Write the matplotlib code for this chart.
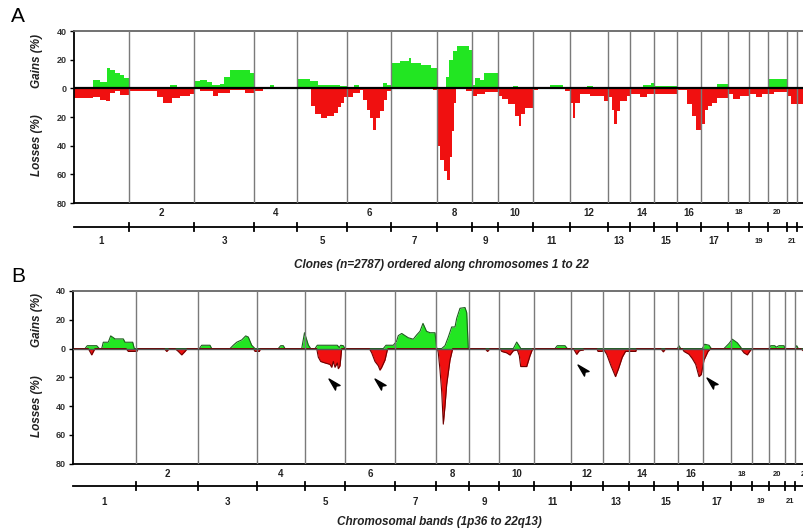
import numpy as np
import matplotlib.pyplot as plt
from matplotlib import transforms
from matplotlib.path import Path

plt.rcParams['font.family'] = ['Liberation Sans', 'DejaVu Sans']

chroms = [str(i) for i in range(1, 23)]
clones_per_chrom = [205, 246, 225, 161, 188, 163, 174, 132, 96, 130, 141,
                    143, 80, 92, 86, 89, 101, 81, 69, 73, 36, 76]
bands_per_chrom = [63, 62, 59, 48, 40, 50, 41, 33, 30, 35, 37,
                   32, 26, 25, 24, 25, 28, 21, 17, 16, 10, 20]

# panel A: step profiles (clone index where a level starts, level in %)
gain_a_start = [0, 71, 97, 124, 135, 154, 172, 188,
                205, 360, 385,
                451, 473, 499, 518, 548, 563, 585, 660,
                676, 735, 750, 790, 800,
                837, 885, 915, 998,
                1025, 1050, 1068, 1158, 1173,
                1188, 1223, 1255, 1264, 1300, 1340,
                1362, 1396, 1408, 1420, 1436, 1480,
                1494, 1505, 1523, 1538,
                1590, 1646, 1665,
                1740, 1750, 1785, 1835,
                1924, 1947,
                2134, 2165,
                2176,
                2262, 2290,
                2411,
                2452, 2470,
                2550, 2570,
                2602,
                2675, 2690, 2700]
gain_a_val = [0, 6, 4.5, 14, 12.5, 11, 9, 7,
              0, 2, 0,
              5, 6, 4.5, 2, 3, 8, 13, 11,
              0, 2.5, 0, 1, 0,
              6.5, 5, 2, 1.5,
              0, 2, 0, 4, 2,
              17.5, 19, 21.5, 18, 16, 14,
              1, 8, 20, 26, 29.5, 27,
              2, 7, 6, 11,
              0, 1.5, 0,
              1, 0, 2, 0,
              1.5, 0,
              2, 4,
              1.5,
              1, 0,
              3,
              1, 0,
              1, 0,
              6.5,
              0, 1, 0]

loss_a_start = [0, 71, 97, 120, 135, 154, 172,
                205, 311, 334, 367, 397, 435,
                451, 473, 522, 540, 585, 641,
                676, 710,
                837, 890, 905, 925, 950, 975, 990, 1000, 1012,
                1025, 1046, 1073, 1085, 1100, 1110, 1122, 1133, 1148, 1163, 1174,
                1188, 1345, 1360,
                1362, 1373, 1388, 1400, 1410, 1418, 1425, 1432, 1470,
                1494, 1511, 1541,
                1590, 1605, 1628, 1655, 1670, 1678, 1692,
                1720, 1740, 1840,
                1861, 1872, 1880, 1898, 1936, 1988,
                2004, 2018, 2025, 2036, 2048, 2074,
                2084, 2123, 2150,
                2176,
                2262, 2300, 2318, 2333,
                2351, 2366, 2378, 2393, 2411,
                2452, 2472, 2498,
                2533, 2560, 2580,
                2602, 2625,
                2675, 2690,
                2711, 2738]
loss_a_val = [6.5, 6, 8, 9, 3, 2, 4.5,
              2, 6, 10, 7, 5, 4,
              0.5, 2, 5, 3, 1, 3,
              2, 0.5,
              0.5, 12, 18, 21, 19, 17, 13, 10, 6,
              6, 3, 1, 8, 15, 21, 29, 21, 16, 8, 2,
              0.5, 1.5, 0,
              40, 50, 58, 64, 48, 30, 10, 0.5, 2,
              5.5, 4, 2.5,
              5.5, 7.5, 11, 19, 26, 18, 13.5,
              1.5, 0.5, 2,
              10, 21, 10, 4, 5, 9,
              6, 15, 25, 16, 9, 5,
              4, 6, 4,
              4,
              1, 11, 19, 29,
              25, 15, 12, 10, 7,
              4, 7.5, 5,
              4, 6, 4,
              4, 2.5,
              5, 11,
              11, 8]

# panel B: smoothed profiles along chromosomal bands
gain_b_x = [0, 12, 14.3, 23.7, 26.3, 28.7, 30.3, 35.3, 37.7, 40.3, 42, 50.3, 52, 59.7, 61.3,
            126.3, 128.7, 137, 138.7,
            157, 160.3, 163.7, 168.7, 172.7, 175.3, 178.7, 182,
            205.3, 207.7, 210.3, 212,
            228.7, 231.5, 235.3, 237.7,
            242, 244.3, 264.3, 266.3, 267.7, 270.3, 272,
            310.3, 313, 320.3, 323.5, 325.3, 328.7, 332, 335.3, 340.3, 343.7, 347, 350,
            353.5, 357, 362, 363.7,
            368.7, 372, 375.3, 378.7, 382, 383.7, 387, 392, 393.7, 395.3,
            440.3, 443.7, 447, 447.7,
            482, 484.3, 492, 494.3,
            604.3, 606, 607.7,
            629.3, 631.7, 636, 638.3,
            651, 656, 659.3, 664.3, 667.7, 668.5,
            696, 697.7, 701.7, 703.3, 706, 711, 712,
            722, 723.7, 725.3, 742]
gain_b_y = [0, 0, 2, 2, 0, 0, 4.4, 4.4, 8.8, 7.6, 6.7, 6.7, 4.4, 4.4, 0,
            0, 2.3, 2.3, 0,
            0, 2.3, 4.4, 6, 8.8, 8, 2.3, 0,
            0, 2, 2, 0,
            0, 11, 2.5, 0,
            0, 2.3, 2.3, 0.7, 2.3, 2, 0,
            0, 2.3, 2.3, 5, 9, 10.5, 9, 7.5, 6.5, 9.5, 12, 17.5,
            12, 11, 11, 0,
            0, 2, 8, 15, 15, 21, 28, 28.5, 25, 0,
            0, 4.5, 1, 0,
            0, 2, 2, 0,
            0, 2, 0,
            0, 3, 2.3, 0,
            0, 3.5, 6.5, 4, 1, 0,
            0, 2, 2, 1, 2, 2, 0,
            0, 2, 0, 0]

loss_b_x = [0, 15.3, 18.7, 22,
            53, 55.3, 63.7, 65.3,
            91.3, 93.7, 96.3,
            102, 105.3, 108.7, 112, 114.3,
            180.3, 182, 186.3, 187.5,
            243.7, 245.3, 247.7, 252, 257, 258.7, 260.3, 262, 264.3, 265.3, 267, 268.7,
            296.3, 298.7, 302, 305.3, 307, 308.7, 312, 314.3, 315,
            364.3, 365.3, 367, 368.7, 370.3, 372, 373.7, 377, 379.7,
            412, 414.5, 417,
            427, 428.7, 433.7, 437, 440.3, 444.3, 446.3, 447.7, 453.7, 457, 459.7,
            500.3, 503.7, 506.3, 510.3, 511,
            523.7, 525, 529, 531, 533.7, 538, 542.5, 545.5, 549.3, 552.5, 562.7, 563.7,
            587.7, 590.3, 592.7,
            609.3, 611, 616, 619.3, 622.7, 626, 628.3, 631, 635, 637.7,
            667.7, 671, 674.3, 677.7, 679.3,
            727.7, 731, 742]
loss_b_y = [0, 0, 4.4, 0,
            0, 2, 2, 0,
            0, 2, 0,
            0, 2, 4.4, 2, 0,
            0, 2, 2, 0,
            0, 6, 9, 10, 11, 13, 9, 13, 10, 14, 12, 0,
            0, 3, 9, 12, 15, 13, 8, 1, 0,
            0, 3, 15, 30, 52.5, 40, 25, 8, 0,
            0, 2, 0,
            0, 2, 3, 4.5, 1.5, 1, 5, 12.5, 12.5, 5, 0,
            0, 4, 1.5, 1, 0,
            0, 2, 2, 1, 4, 12, 19.5, 14, 6, 2, 2, 0,
            0, 2.3, 0,
            0, 2, 4, 7, 11, 19.5, 18, 8, 2, 0,
            0, 3, 4.4, 1, 0,
            0, 2, 2]

# arrowheads marking losses in panel B (band position, loss %)
arrow_x = [261.3, 307, 510.3, 638.7]
arrow_y = [24.7, 24.7, 14.8, 24]

green = '#22e622'
red = '#f01010'
W, H = 804, 532

fig = plt.figure(figsize=(W / 100, H / 100), dpi=100)


def fig_rect(left, top, right, bottom):
    return [left / W, 1 - bottom / H, (right - left) / W, (bottom - top) / H]


def setup_axes(ax, sizes, zero_color, zero_lw, rows):
    edges = np.concatenate([[0], np.cumsum(sizes)])
    ax.set_xlim(0, edges[-1])
    ax.set_ylim(-80, 40)
    for e in edges[1:-1]:
        ax.axvline(e, color='#7a7a7a', lw=1.0, zorder=3)
    ax.axhline(0, color=zero_color, lw=zero_lw, zorder=4)
    ax.set_xticks([])
    ax.set_yticks([-80, -60, -40, -20, 0, 20, 40])
    ax.set_yticklabels(['80', '60', '40', '20', '0', '20', '40'])
    ax.tick_params(axis='y', length=3, width=1, pad=2, labelsize=6.5)
    for lab in ax.get_yticklabels():
        lab.set_fontweight('bold')
        lab.set_color('#333333')
    ax.spines['right'].set_visible(False)
    ax.spines['top'].set_color('#666666')
    for s in ['top', 'left', 'bottom']:
        ax.spines[s].set_linewidth(1.3)

    # chromosome ruler below the axes
    even_y, line_y, odd_y = rows
    tr = transforms.blended_transform_factory(ax.transData, ax.transAxes)
    ax.plot([0, edges[-1]], [line_y, line_y], color='black', lw=1.3,
            transform=tr, clip_on=False)
    for e in edges[1:-1]:
        ax.plot([e, e], [line_y - 0.022, line_y + 0.022], color='black',
                lw=1.3, transform=tr, clip_on=False)
    for i, name in enumerate(chroms):
        mid = (edges[i] + edges[i + 1]) / 2
        y = even_y if (i + 1) % 2 == 0 else odd_y
        fs = 5.5 if i >= 17 else 7
        ax.text(mid, y, name, transform=tr, ha='center', va='center',
                fontsize=fs, fontweight='bold', color='#222222')
    return edges


# ---- panel A ----
axA = fig.add_axes(fig_rect(74, 31, 817, 203))
setup_axes(axA, clones_per_chrom, 'black', 1.6, (-0.058, -0.138, -0.221))
total_a = sum(clones_per_chrom)
gx = np.append(gain_a_start, total_a)
gy = np.append(gain_a_val, gain_a_val[-1])
lx = np.append(loss_a_start, total_a)
ly = np.append(loss_a_val, loss_a_val[-1])
axA.fill_between(gx, 0, gy, step='post', color=green, lw=0, zorder=2)
axA.fill_between(lx, 0, -ly, step='post', color=red, lw=0, zorder=2)

# ---- panel B ----
axB = fig.add_axes(fig_rect(73, 291, 815, 463.7))
setup_axes(axB, bands_per_chrom, '#555555', 1.0, (-0.060, -0.129, -0.219))
axB.fill_between(gain_b_x, 0, gain_b_y, color=green, lw=0, zorder=2)
axB.plot(gain_b_x, gain_b_y, color='#1d5e1d', lw=0.8, zorder=2.5)
neg_loss = -np.array(loss_b_y)
axB.fill_between(loss_b_x, 0, neg_loss, color=red, lw=0, zorder=2)
axB.plot(loss_b_x, neg_loss, color='#6e0000', lw=0.8, zorder=2.5)

# arrowhead marker pointing to upper-left
head = Path([(0, 1), (-0.42, -0.6), (0, -0.3), (0.42, -0.6), (0, 1)],
            [Path.MOVETO, Path.LINETO, Path.LINETO, Path.LINETO, Path.CLOSEPOLY])
head = transforms.Affine2D().rotate_deg(45).transform_path(head)
axB.plot(arrow_x, -np.array(arrow_y), ls='none', marker=head, markersize=8,
         color='black', zorder=5)

# ---- labels ----
lab_kw = dict(fontsize=8.5, fontweight='bold', fontstyle='italic',
              ha='center', va='center', color='#222222')
fig.text(37 / W, 1 - 61 / H, 'Gains (%)', rotation=90, **lab_kw)
fig.text(37 / W, 1 - 145 / H, 'Losses (%)', rotation=90, **lab_kw)
fig.text(37 / W, 1 - 320 / H, 'Gains (%)', rotation=90, **lab_kw)
fig.text(37 / W, 1 - 406 / H, 'Losses (%)', rotation=90, **lab_kw)
fig.text(441 / W, 1 - 265 / H, 'Clones (n=2787) ordered along chromosomes 1 to 22', **lab_kw)
fig.text(439 / W, 1 - 522 / H, 'Chromosomal bands (1p36 to 22q13)', **lab_kw)
fig.text(18 / W, 1 - 17 / H, 'A', fontsize=15, ha='center', va='center')
fig.text(18 / W, 1 - 277 / H, 'B', fontsize=15, ha='center', va='center')

fig.savefig('out.png', dpi=100)
